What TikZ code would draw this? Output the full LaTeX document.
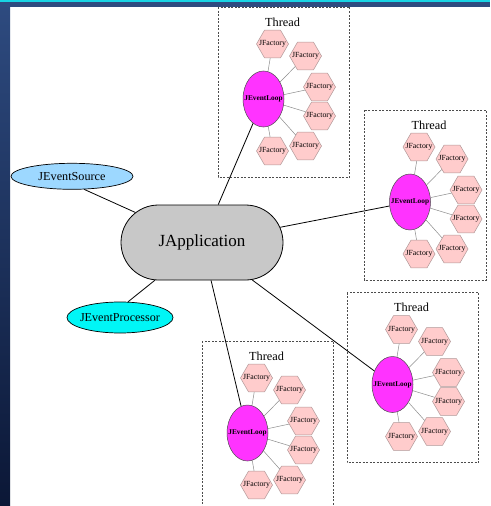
\documentclass[tikz,border=0pt]{standalone}
\usepackage{fontspec}
\setmainfont{Liberation Serif}
\usetikzlibrary{shapes.geometric,shapes.misc}
\definecolor{bandtop}{HTML}{2E4B80}
\definecolor{bandbot}{HTML}{0B1736}
\definecolor{stripcyan}{HTML}{18D4E4}
\definecolor{appgray}{HTML}{C8C8C8}
\definecolor{srcblue}{HTML}{9DD8FF}
\definecolor{proccyan}{HTML}{00F6F6}
\definecolor{loopmag}{HTML}{FF33FF}
\definecolor{facpink}{HTML}{FFCCCC}
\definecolor{facline}{HTML}{B09898}
\tikzset{
  appnode/.style={rounded rectangle, draw=black, line width=0.8pt, fill=appgray,
    minimum width=162pt, minimum height=75pt, inner sep=0pt,
    font=\fontsize{17}{20}\selectfont},
  srcnode/.style={ellipse, draw=black, line width=0.7pt, fill=srcblue,
    minimum width=122pt, minimum height=26pt, inner sep=0pt,
    font=\fontsize{12.2}{14}\selectfont},
  procnode/.style={ellipse, draw=black, line width=0.7pt, fill=proccyan,
    minimum width=106pt, minimum height=31pt, inner sep=0pt,
    font=\fontsize{12.1}{14}\selectfont},
  loopnode/.style={ellipse, draw=black!70, line width=0.5pt, fill=loopmag,
    minimum width=41pt, minimum height=56pt, inner sep=0pt,
    font=\fontsize{7.3}{8}\selectfont\bfseries},
  facnode/.style={regular polygon, regular polygon sides=6, draw=facline,
    line width=0.5pt, fill=facpink, minimum size=32pt, inner sep=0pt,
    font=\fontsize{7.8}{8}\selectfont},
  threadbox/.style={draw=black!70, dashed, dash pattern=on 2pt off 1.5pt, line width=0.6pt},
  threadtitle/.style={inner sep=0pt, font=\fontsize{12.3}{14}\selectfont},
  mainedge/.style={draw=black, line width=0.8pt},
  facedge/.style={draw=black!45, line width=0.5pt}
}
\newcommand\threadcluster[4]{%
  \begin{scope}[shift={(#2,#3)}]
    \draw[threadbox] (-45.5,-92) rectangle (#4,78);
    \node[threadtitle] (#1title) at (19,-77) {Thread};
    \node[loopnode] (#1loop) at (0,0) {\makebox[0pt]{JEventLoop}};
    \foreach \i/\dx/\dy in {1/9/-55,2/42/-43,3/56/-12,4/56/17,5/42/47,6/9/52}{
      \node[facnode] (#1f\i) at (\dx,\dy) {\makebox[0pt]{JFactory}};
      \draw[facedge] (#1loop) -- (#1f\i);
    }
  \end{scope}}
\begin{document}
\begin{tikzpicture}[x=1pt,y=-1pt]
  \useasboundingbox (0,0) rectangle (490,506);
  \fill[white] (0,0) rectangle (490,506);
  \shade[top color=bandtop, bottom color=bandbot] (0,0) rectangle (10,506);
  \fill[bandtop] (0,0) rectangle (490,7);
  \fill[stripcyan] (0,0) rectangle (490,2);

  \threadcluster{ta}{263.5}{99}{86}
  \threadcluster{tb}{410}{202}{76}
  \threadcluster{tc}{392.5}{384.5}{86}
  \threadcluster{td}{247.5}{433}{86}

  \node[appnode] (app) at (202,242.5) {JApplication};
  \node[srcnode] (src) at (72,176.3) {\makebox[0pt]{JEventSource}};
  \node[procnode] (proc) at (120,317.5) {\makebox[0pt]{JEventProcessor}};

  \draw[mainedge] (src.-47) -- (app);
  \draw[mainedge] (proc.63) -- (app);
  \draw[mainedge] (app) -- (taloop);
  \draw[mainedge] (app) -- (tbloop);
  \draw[mainedge] (app) -- (tcloop);
  \draw[mainedge] (app) -- (tdloop);
\end{tikzpicture}
\end{document}
